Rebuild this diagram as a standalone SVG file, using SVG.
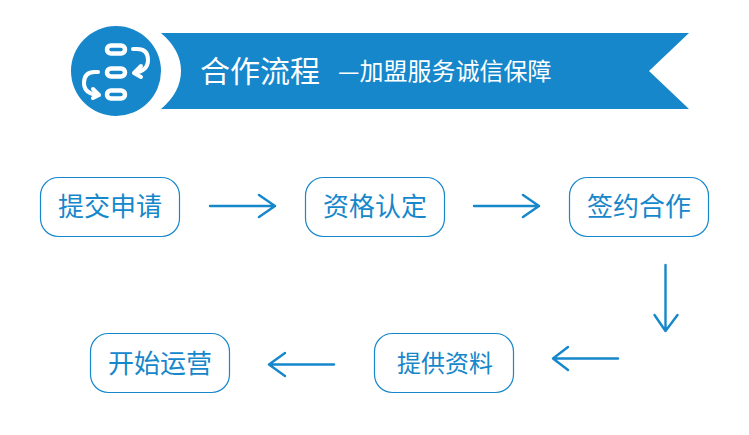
<svg xmlns="http://www.w3.org/2000/svg" width="749" height="435" viewBox="0 0 749 435">
<style>
text{font-family:"Noto Sans CJK SC","Liberation Sans",sans-serif;font-weight:400}
.n rect{fill:#fff;stroke:#1687cb;stroke-width:1.200}
.n text{fill:#1687cb;font-size:26px;text-anchor:middle}
.a path{fill:none;stroke:#1687cb;stroke-width:2.400;stroke-linecap:round;stroke-linejoin:round}
.i rect{fill:none;stroke:#fff;stroke-width:4.500}
.i path{fill:none;stroke:#fff;stroke-width:4;stroke-linecap:round;stroke-linejoin:round}
</style>
<g id="banner">
<path d="M161 33H689L649 71L689 109H161Q181 92 181 71Q181 50 161 33Z" fill="#1687cb"/>
<text x="200" y="82" font-size="30" fill="#fff">合作流程</text>
<text x="338" y="80" font-size="24" fill="#fff">—加盟服务诚信保障</text>
</g>
<g id="icon" class="i">
<circle cx="116" cy="71" r="45" fill="#1687cb"/>
<rect x="107" y="45.500" width="18" height="8" rx="4"/>
<rect x="107" y="68.500" width="18" height="8" rx="4"/>
<rect x="107" y="90.500" width="18" height="8" rx="4"/>
<path d="M133 49H137Q148 49 148 60Q148 71 134 73M141 66L134 73L141 77"/>
<path d="M98 72H95Q84 72 84 83Q84 94 99 95M93 89L99 95L93 98"/>
</g>
<g id="connectors" class="a">
<path d="M210 206H275M259 195L275 206L259 217"/>
<path d="M474 206H539M523 195L539 206L523 217"/>
<path d="M665.500 265V331M654.500 315L665.500 331L677.500 315"/>
<path d="M618 358.500H553M568 347L553 358.500L568 370"/>
<path d="M334 364.500H269M285 353L269 364.500L285 376"/>
</g>
<g id="node1" class="n"><rect x="40.500" y="177.500" width="139" height="59" rx="18"/><text x="110" y="216">提交申请</text></g>
<g id="node2" class="n"><rect x="305.500" y="177.500" width="139" height="59" rx="18"/><text x="375" y="216">资格认定</text></g>
<g id="node3" class="n"><rect x="569.500" y="177.500" width="139" height="59" rx="18"/><text x="639" y="216">签约合作</text></g>
<g id="node4" class="n"><rect x="374.500" y="333.500" width="139" height="59" rx="18"/><text x="445" y="372" style="font-size:24px">提供资料</text></g>
<g id="node5" class="n"><rect x="90.500" y="333.500" width="139" height="59" rx="18"/><text x="160" y="373">开始运营</text></g>
</svg>
